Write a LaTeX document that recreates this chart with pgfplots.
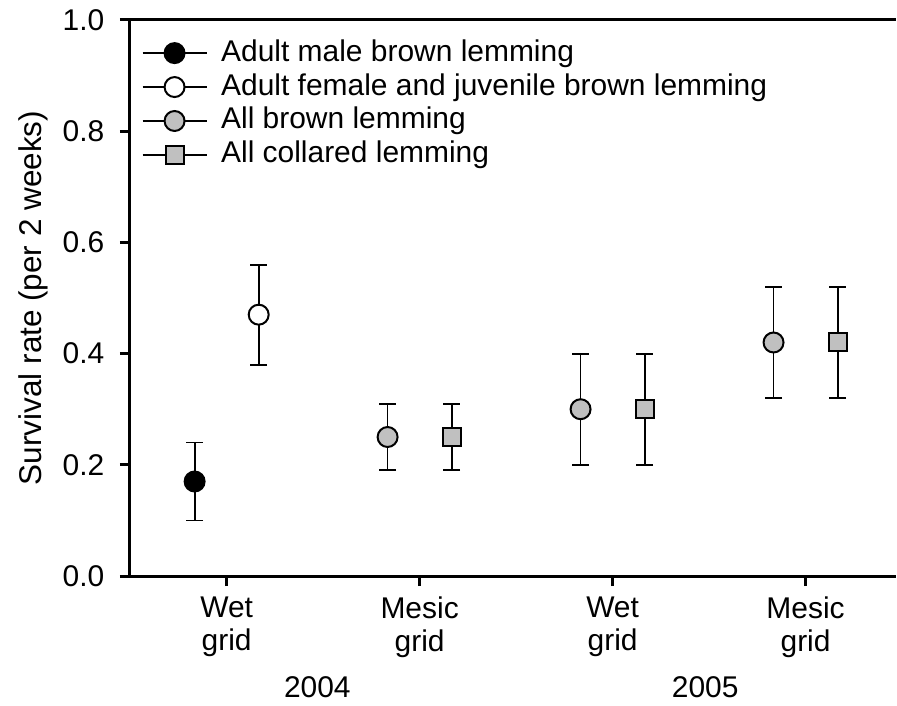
\documentclass[border=0pt]{standalone}
\usepackage{pgfplots}
\pgfplotsset{compat=1.18}
\usepackage{fontspec}
\setmainfont{Liberation Sans}
\definecolor{silver}{HTML}{C0C0C0}
\newcommand\bigf{\fontsize{30}{33}\selectfont}

\begin{document}
\begin{tikzpicture}
\begin{axis}[
  scale only axis, width=767pt, height=557pt,
  xmin=0.498, xmax=4.466, ymin=0, ymax=1,
  clip=false,
  axis lines*=left,
  axis line style={-, line width=3pt},
  tick align=outside, major tick length=10pt,
  tick style={line width=3pt, black},
  xtick={1,2,3,4},
  xticklabels={Wet\\grid, Mesic\\grid, Wet\\grid, Mesic\\grid},
  xticklabel style={align=center, yshift=-7pt},
  ytick={0,0.2,0.4,0.6,0.8,1.0},
  yticklabel style={/pgf/number format/.cd, fixed, fixed zerofill, precision=1, /tikz/xshift=-12pt},
  /pgf/number format/assume math mode=true,
  tick label style={font=\bigf},
  ylabel={Survival rate (per 2 weeks)},
  every axis y label/.style={at={(rel axis cs:-0.1147,0.5)}, rotate=90, anchor=base,
    font=\fontsize{31.5}{34}\selectfont},
  legend cell align=left,
  legend style={at={(rel axis cs:0,1)}, anchor=north west, xshift=12pt, yshift=-17pt,
    draw=none, fill=none, inner sep=0pt, font=\bigf, row sep=2pt,
    nodes={inner sep=2pt, text height=22pt, text depth=6pt},
    /tikz/every odd column/.append style={column sep=12pt}},
  legend image code/.code={
    \draw[line width=1.3pt, black] (0pt,0pt) -- (64pt,0pt);
    \draw[#1] plot coordinates {(32pt,0pt)};
  },
  every error bar/.append style={line width=1.8pt},
  eb/.style={only marks, black,
    error bars/y dir=both, error bars/y explicit,
    error bars/error bar style={line width=1.8pt},
    error bars/error mark options={rotate=90, mark size=8.5pt, line width=1.8pt}},
]
% 2004 wet grid: sexes split
\addplot[eb, mark=*, mark size=10pt, mark options={fill=black, line width=2pt}]
  coordinates {(0.834,0.17) +- (0,0.07)};
\addlegendentry{Adult male brown lemming}
\addplot[eb, mark=*, mark size=10pt, mark options={fill=white, line width=2pt}]
  coordinates {(1.166,0.47) +- (0,0.09)};
\addlegendentry{Adult female and juvenile brown lemming}
\addplot[eb, mark=*, mark size=10pt, mark options={fill=silver, line width=2pt}]
  coordinates {(1.834,0.25) +- (0,0.06) (2.834,0.30) +- (0,0.10) (3.834,0.42) +- (0,0.10)};
\addlegendentry{All brown lemming}
\addplot[eb, mark=square*, mark size=9pt, mark options={fill=silver, line width=2pt}]
  coordinates {(2.166,0.25) +- (0,0.06) (3.166,0.30) +- (0,0.10) (4.166,0.42) +- (0,0.10)};
\addlegendentry{All collared lemming}

\draw[line width=3pt] (rel axis cs:0,1) -- (rel axis cs:1,1);
\node[font=\bigf, anchor=base] at (axis cs:1.47,0) [yshift=-122pt] {2004};
\node[font=\bigf, anchor=base] at (axis cs:3.48,0) [yshift=-122pt] {2005};
\path (rel axis cs:-0.1695,-0.2334) rectangle (rel axis cs:1,1.0359);
\end{axis}
\end{tikzpicture}
\end{document}
